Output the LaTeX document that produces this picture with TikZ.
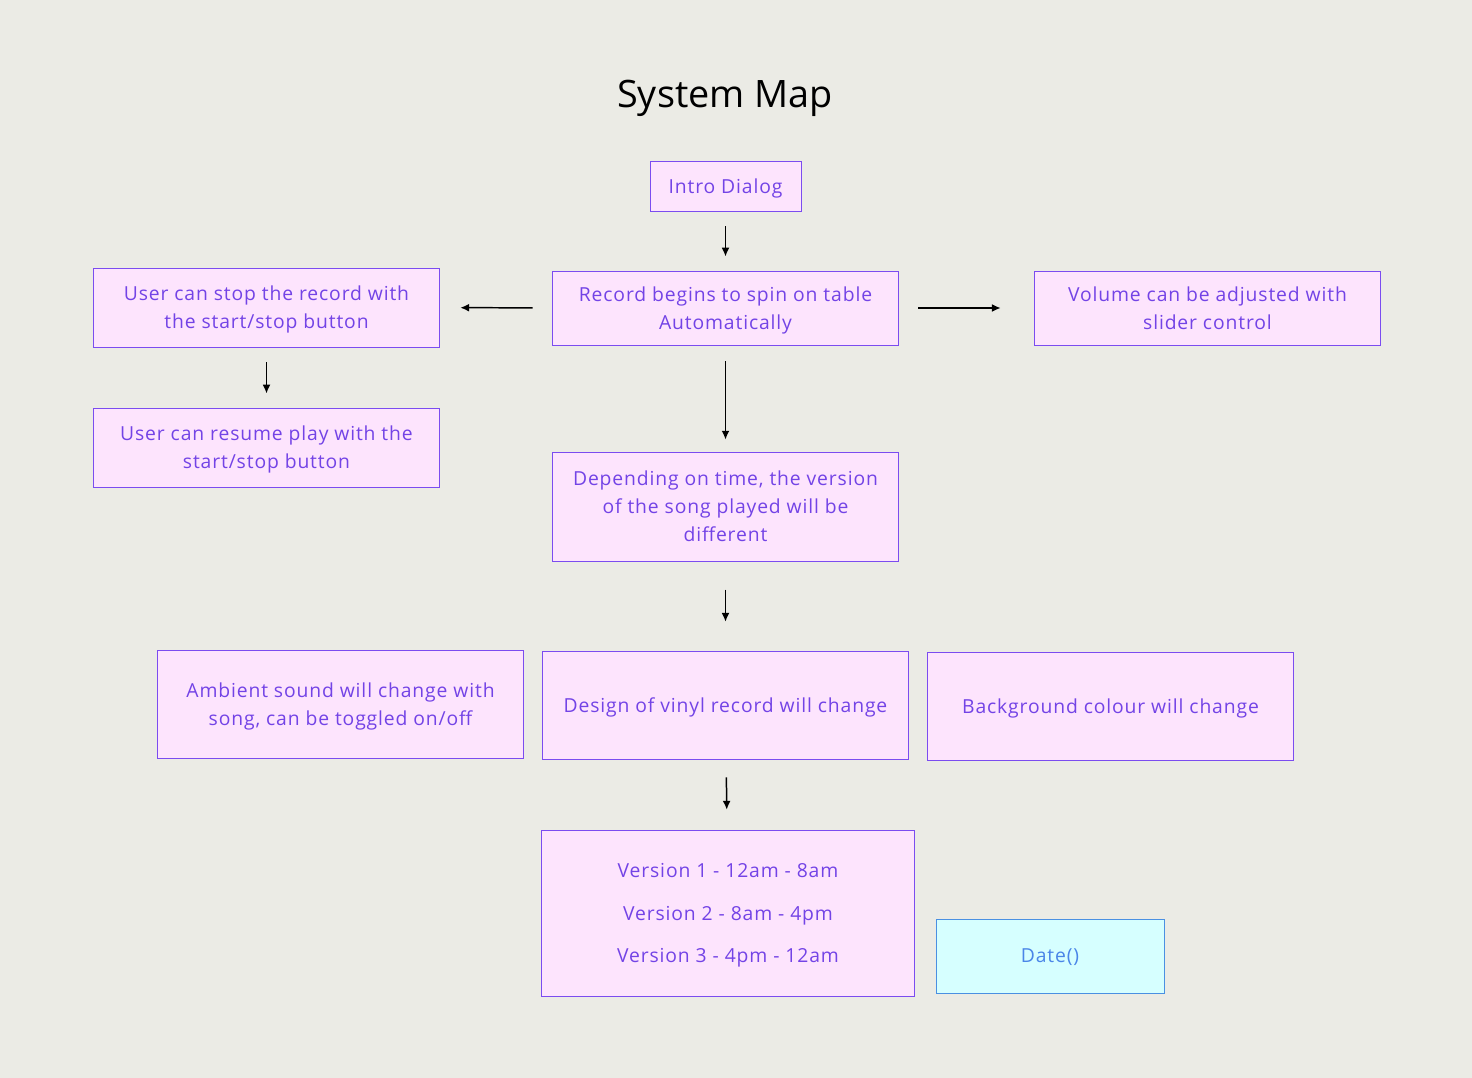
\documentclass[tikz,border=0pt]{standalone}
\usepackage{fontspec}
\setmainfont[LetterSpace=4.5]{Open Sans}
\newfontfamily\titlefont{Open Sans}
\usepackage{tikz}
\usetikzlibrary{arrows.meta,positioning}
\definecolor{bgcol}{HTML}{EBEBE5}
\definecolor{boxfill}{HTML}{FDE4FD}
\definecolor{boxline}{HTML}{7B4CF0}
\definecolor{boxtext}{HTML}{7343E6}
\definecolor{datefill}{HTML}{D6FFFF}
\definecolor{dateline}{HTML}{4A90E2}
\definecolor{datetext}{HTML}{4A86E8}

\begin{document}
\begin{tikzpicture}[x=0.02cm,y=-0.02cm,
		sbox/.style = {rectangle,draw = boxline,fill = boxfill,text = boxtext,align = center,
			line width = 0.55pt,inner sep = 0pt,text depth = 0pt,font = \fontsize{11}{15.9}\selectfont},
		datebox/.style = {sbox,draw = dateline,fill = datefill,text = datetext},
		arr/.style = {-{Latex[length = 5pt,width = 4.5pt]},line width = 0.85pt}]
		\fill [bgcol] (0,0) rectangle (1472,1078);
		\useasboundingbox (0,0) rectangle (1472,1078);
		\node (title) at (725,98) {\titlefont\fontsize{21.5}{26}\selectfont System Map};
		\node (intro) at (725.5,186) [sbox,minimum width = 3.02cm,minimum height = 1cm] {Intro Dialog};
		\node (record) at (725.5,308) [sbox,minimum width = 6.94cm,minimum height = 1.48cm] {Record begins to spin on table\\Automatically};
		\node (stop) at (266.5,307.5) [sbox,minimum width = 6.94cm,minimum height = 1.58cm] {User can stop the record with\\the start/stop button};
		\node (volume) at (1207.5,308) [sbox,minimum width = 6.94cm,minimum height = 1.48cm] {Volume can be adjusted with\\slider control};
		\node (resume) at (266.5,447.5) [sbox,minimum width = 6.94cm,minimum height = 1.58cm] {User can resume play with the\\start/stop button};
		\node (depend) at (725.5,506.5) [sbox,minimum width = 6.94cm,minimum height = 2.18cm] {Depending on time, the version\\of the song played will be\\different};
		\node (ambient) at (340.5,704) [sbox,minimum width = 7.34cm,minimum height = 2.16cm] {Ambient sound will change with\\song, can be toggled on/off};
		\node (design) at (725.5,705) [sbox,minimum width = 7.34cm,minimum height = 2.16cm] {Design of vinyl record will change};
		\node (backgr) at (1110.5,706) [sbox,minimum width = 7.34cm,minimum height = 2.16cm] {Background colour will change};
		\node (versions) at (728,913) [sbox,minimum width = 7.48cm,minimum height = 3.32cm,
			font = \fontsize{11}{24.4}\selectfont] {Version 1 - 12am - 8am\\Version 2 - 8am - 4pm\\Version 3 - 4pm - 12am};
		\node (date) at (1050,956) [datebox,minimum width = 4.56cm,minimum height = 1.48cm] {Date()};
		\draw [arr,shorten < = 8.5pt,shorten > = 8pt] (intro) -- (record);
		\draw [arr,shorten < = 10.8pt,shorten > = 11.3pt] (record) -- (stop);
		\draw [arr,shorten < = 10.8pt,shorten > = 18.7pt] (record) -- (volume);
		\draw [arr,shorten < = 8.5pt,shorten > = 8pt] (stop) -- (resume);
		\draw [arr,shorten < = 9pt,shorten > = 6.8pt] (record) -- (depend);
		\draw [arr,shorten < = 16pt,shorten > = 16.4pt] (depend) -- (design);
		\draw [arr,shorten < = 10.2pt,shorten > = 11.3pt] (design) -- (versions);
	\end{tikzpicture}
\end{document}
